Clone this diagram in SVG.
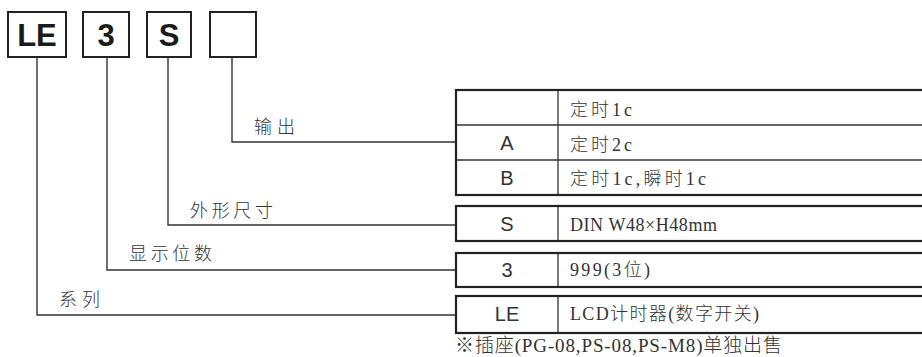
<svg xmlns="http://www.w3.org/2000/svg" width="922" height="357" viewBox="0 0 922 357">
<style>
.box{fill:#fff;stroke:#222;stroke-width:2}
.code{font-family:"Liberation Sans",Arial,sans-serif;font-weight:bold;font-size:31px;fill:#1a1a1a;text-anchor:middle}
.conn{fill:none;stroke:#333;stroke-width:1.4}
.lbl{font-family:"Noto Sans CJK SC","Liberation Sans",sans-serif;font-weight:300;font-size:18px;fill:#333}
.tbl{fill:none;stroke:#222;stroke-width:2.2}
.inner{stroke:#333;stroke-width:1.3}
.key{font-family:"Liberation Sans",Arial,sans-serif;font-size:20px;fill:#333;text-anchor:middle}
.val{font-family:"Liberation Serif","Noto Sans CJK SC",serif;font-weight:300;font-size:18px;fill:#333}
.note{font-family:"Liberation Serif","Noto Sans CJK SC",serif;font-weight:300;font-size:19px;fill:#333}
</style>
<g id="code-LE"><rect class="box" x="8" y="12" width="58" height="45"/><text class="code" x="37" y="46">LE</text></g>
<g id="code-3"><rect class="box" x="83" y="12" width="46" height="45"/><text class="code" x="106" y="46">3</text></g>
<g id="code-S"><rect class="box" x="147" y="12" width="44" height="45"/><text class="code" x="169" y="46">S</text></g>
<g id="code-blank"><rect class="box" x="210" y="12" width="46" height="45"/></g>
<g id="connectors">
<polyline class="conn" points="232,57 232,142 456,142"/>
<polyline class="conn" points="168,57 168,225 456,225"/>
<polyline class="conn" points="107,57 107,270 456,270"/>
<polyline class="conn" points="37,57 37,315 456,315"/>
</g>
<g id="labels">
<text class="lbl" x="254" y="133" textLength="41" lengthAdjust="spacing">输出</text>
<text class="lbl" x="190" y="217" textLength="83" lengthAdjust="spacing">外形尺寸</text>
<text class="lbl" x="129" y="260" textLength="83" lengthAdjust="spacing">显示位数</text>
<text class="lbl" x="59" y="306" textLength="41" lengthAdjust="spacing">系列</text>
</g>
<g id="table-output">
<line class="inner" x1="456" y1="125" x2="925" y2="125"/>
<line class="inner" x1="456" y1="160" x2="925" y2="160"/>
<line class="inner" x1="558" y1="90" x2="558" y2="195"/>
<rect class="tbl" x="456" y="90" width="480" height="105"/>
<text class="val" x="570" y="116" textLength="62" lengthAdjust="spacing">定时1c</text>
<text class="key" x="507" y="150">A</text>
<text class="val" x="570" y="151" textLength="62" lengthAdjust="spacing">定时2c</text>
<text class="key" x="507" y="185">B</text>
<text class="val" x="570" y="185" textLength="136" lengthAdjust="spacing">定时1c,瞬时1c</text>
</g>
<g id="table-size">
<line class="inner" x1="558" y1="206" x2="558" y2="241"/>
<rect class="tbl" x="456" y="206" width="480" height="35"/>
<text class="key" x="507" y="231">S</text>
<text class="val" x="570" y="231" textLength="147" lengthAdjust="spacing">DIN W48×H48mm</text>
</g>
<g id="table-digits">
<line class="inner" x1="558" y1="253" x2="558" y2="287"/>
<rect class="tbl" x="456" y="253" width="480" height="34"/>
<text class="key" x="507" y="277">3</text>
<text class="val" x="570" y="276" textLength="80" lengthAdjust="spacing">999(3位)</text>
</g>
<g id="table-series">
<line class="inner" x1="558" y1="296" x2="558" y2="333"/>
<rect class="tbl" x="456" y="296" width="480" height="37"/>
<text class="key" x="507" y="321">LE</text>
<text class="val" x="570" y="320" textLength="189" lengthAdjust="spacing">LCD计时器(数字开关)</text>
</g>
<text class="note" x="455" y="352" textLength="327" lengthAdjust="spacing">※插座(PG-08,PS-08,PS-M8)单独出售</text>
</svg>
